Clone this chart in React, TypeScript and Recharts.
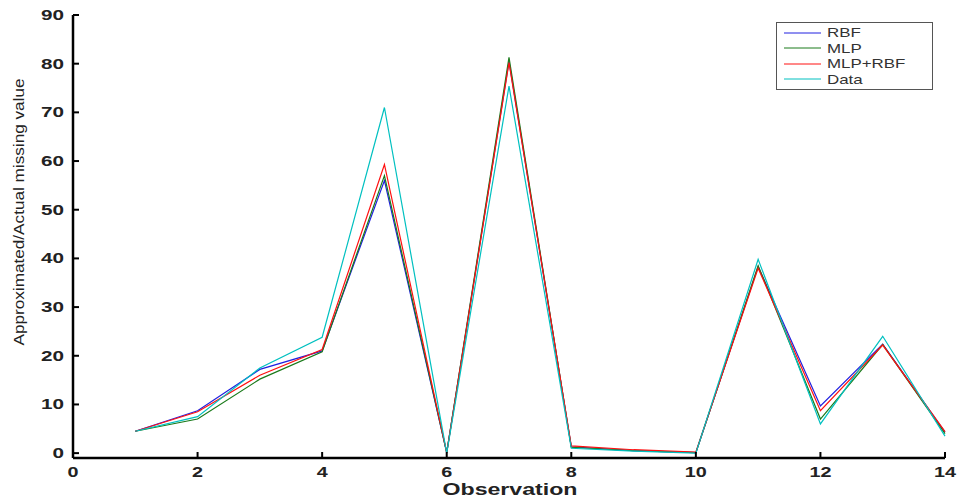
import { Legend, Line, LineChart, XAxis, YAxis } from "recharts";

const observations = [1, 2, 3, 4, 5, 6, 7, 8, 9, 10, 11, 12, 13, 14];
const rbf = [4.5, 8.7, 17.2, 21.0, 56.0, 0.1, 80.5, 1.3, 0.5, 0.1, 38.3, 9.7, 22.4, 4.3];
const mlp = [4.5, 7.0, 15.2, 20.8, 57.0, 0.1, 81.3, 1.2, 0.5, 0.1, 38.5, 7.0, 22.3, 4.0];
const mlpRbf = [4.5, 8.5, 16.0, 21.3, 59.3, 0.1, 80.2, 1.5, 0.7, 0.2, 38.0, 8.7, 22.2, 4.4];
const actual = [4.5, 7.5, 17.5, 23.8, 71.0, 0.0, 75.4, 1.0, 0.4, 0.0, 39.8, 6.0, 24.0, 3.5];

const xTicks = [0, 2, 4, 6, 8, 10, 12, 14];
const yTicks = [0, 10, 20, 30, 40, 50, 60, 70, 80, 90];

const series = [
  { key: "rbf", name: "RBF", color: "#2020e0" },
  { key: "mlp", name: "MLP", color: "#1a7a1a" },
  { key: "mlpRbf", name: "MLP+RBF", color: "#ff1010" },
  { key: "actual", name: "Data", color: "#00c0c0" },
];

const rows = observations.map((x, i) => ({
  x,
  rbf: rbf[i],
  mlp: mlp[i],
  mlpRbf: mlpRbf[i],
  actual: actual[i],
}));

const FONT = "'Liberation Sans', Arial, sans-serif";

function BottomTick({ x, y, payload }: any) {
  const label = String(payload.value);
  return (
    <g>
      <line x1={x} x2={x} y1={y} y2={y - 6} stroke="#000" strokeWidth={2} />
      <text
        x={x}
        y={y + 19}
        textAnchor="middle"
        fontFamily={FONT}
        fontWeight="bold"
        fontSize={14}
        fill="#222"
        textLength={label.length * 11}
        lengthAdjust="spacingAndGlyphs"
      >
        {label}
      </text>
    </g>
  );
}

function LeftTick({ x, y, payload }: any) {
  const label = String(payload.value);
  return (
    <g>
      <line x1={x} x2={x + 6} y1={y} y2={y} stroke="#000" strokeWidth={2} />
      <text
        x={x - 9}
        y={y + 5}
        textAnchor="end"
        fontFamily={FONT}
        fontWeight="bold"
        fontSize={14}
        fill="#222"
        textLength={label.length * 11.5}
        lengthAdjust="spacingAndGlyphs"
      >
        {label}
      </text>
    </g>
  );
}

function TopTick({ x, y }: any) {
  return <line x1={x} x2={x} y1={y} y2={y + 6} stroke="#000" strokeWidth={2} />;
}

function RightTick({ x, y }: any) {
  return <line x1={x} x2={x - 6} y1={y} y2={y} stroke="#000" strokeWidth={2} />;
}

const xLabel = () => (
  <text
    x={510}
    y={495}
    textAnchor="middle"
    fontFamily={FONT}
    fontWeight="bold"
    fontSize={17}
    fill="#222"
    textLength={135}
    lengthAdjust="spacingAndGlyphs"
  >
    Observation
  </text>
);

const yLabel = () => (
  <text
    x={24}
    y={212}
    transform="rotate(-90 24 212)"
    textAnchor="middle"
    fontFamily={FONT}
    fontSize={14}
    fill="#222"
    textLength={267}
    lengthAdjust="spacingAndGlyphs"
  >
    Approximated/Actual missing value
  </text>
);

function LegendBox() {
  return (
    <div
      style={{
        border: "1px solid #555",
        background: "#fff",
        padding: "2px 0",
        fontFamily: FONT,
        fontSize: 13,
        lineHeight: "15.5px",
      }}
    >
      {series.map((s) => (
        <div key={s.key} style={{ display: "flex", alignItems: "center", height: 15.5 }}>
          <svg width={50} height={10} style={{ flex: "none" }}>
            <line x1={7} x2={44} y1={5} y2={5} stroke={s.color} strokeWidth={1} />
          </svg>
          <span style={{ color: "#333", display: "inline-block", transform: "scaleX(1.3)", transformOrigin: "left center" }}>
            {s.name}
          </span>
        </div>
      ))}
    </div>
  );
}

export default function App() {
  return (
    <div style={{ position: "absolute", left: 0, top: 0, width: 958, height: 502, background: "#fff" }}>
      <LineChart width={958} height={502} data={rows} margin={{ top: 15, right: 13, bottom: 0, left: 13 }}>
        <XAxis
          dataKey="x"
          type="number"
          domain={[0, 14]}
          ticks={xTicks}
          height={44}
          axisLine={{ stroke: "#000", strokeWidth: 2.5 }}
          tickLine={false}
          tickSize={0}
          tickMargin={0}
          tick={<BottomTick />}
          interval={0}
          label={{ value: "Observation", content: xLabel }}
        />
        <XAxis
          xAxisId="top"
          orientation="top"
          dataKey="x"
          type="number"
          domain={[0, 14]}
          ticks={xTicks}
          height={0}
          axisLine={{ stroke: "#000", strokeWidth: 2.5 }}
          tickLine={false}
          tickSize={0}
          tickMargin={0}
          tick={<TopTick />}
          interval={0}
        />
        <YAxis
          type="number"
          domain={[-1, 90]}
          ticks={yTicks}
          width={60}
          axisLine={{ stroke: "#000", strokeWidth: 2.5 }}
          tickLine={false}
          tickSize={0}
          tickMargin={0}
          tick={<LeftTick />}
          interval={0}
          label={{ value: "Approximated/Actual missing value", content: yLabel }}
        />
        <YAxis
          yAxisId="right"
          orientation="right"
          type="number"
          domain={[-1, 90]}
          ticks={yTicks}
          width={0}
          axisLine={{ stroke: "#000", strokeWidth: 2.5 }}
          tickLine={false}
          tickSize={0}
          tickMargin={0}
          tick={<RightTick />}
          interval={0}
        />
        {series.map((s) => (
          <Line
            key={s.key}
            dataKey={s.key}
            name={s.name}
            stroke={s.color}
            strokeWidth={1.2}
            dot={false}
            activeDot={false}
            type="linear"
            isAnimationActive={false}
          />
        ))}
        <Legend
          layout="vertical"
          align="center"
          verticalAlign="middle"
          content={<LegendBox />}
          wrapperStyle={{ left: 776, top: 22, width: 157, height: 62 }}
        />
      </LineChart>
    </div>
  );
}
